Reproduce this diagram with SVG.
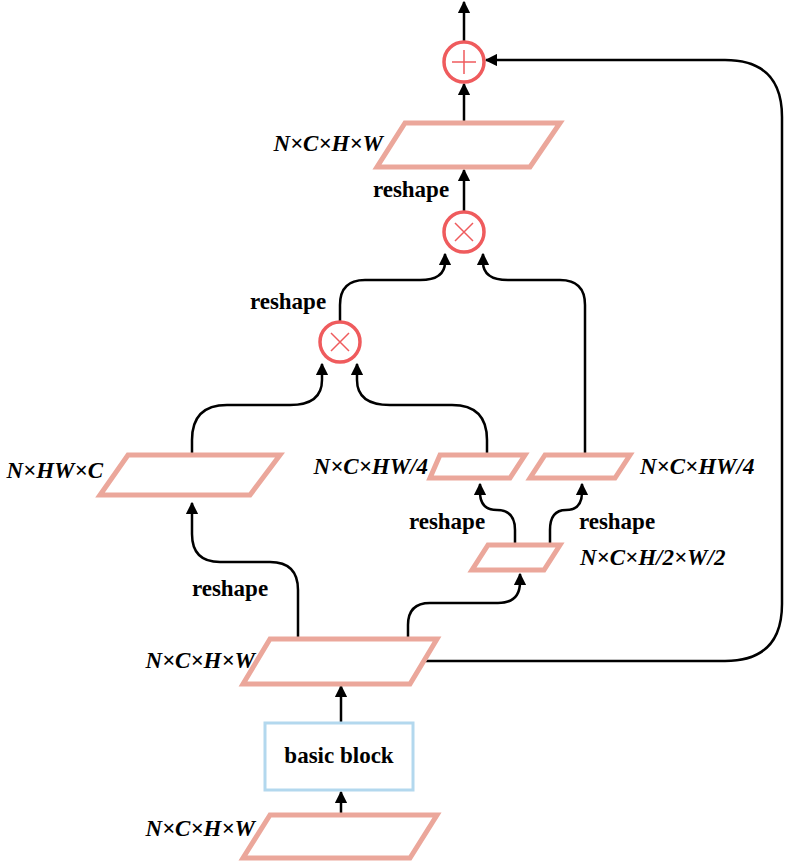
<svg xmlns="http://www.w3.org/2000/svg" width="788" height="862" viewBox="0 0 788 862">
<defs>
<marker id="ah" viewBox="0 0 10 10" refX="9" refY="5" markerWidth="5" markerHeight="5" orient="auto-start-reverse"><path d="M0,0 L10,5 L0,10 z" fill="#000"/></marker>
<style>
.pg{fill:#fff;stroke:#eba79b;stroke-width:5}
.op{fill:#fff;stroke:#ef5b5d;stroke-width:3.5}
.sym{stroke:#ef5b5d;stroke-width:1.5;fill:none}
.c{fill:none;stroke:#000;stroke-width:2.5;marker-end:url(#ah)}
.t{font-family:"Liberation Serif",serif;font-size:23px;font-weight:bold;font-style:italic}
.r{font-family:"Liberation Serif",serif;font-size:23px;font-weight:bold}
</style>
</defs>
<g id="connectors">
<path class="c" d="M341,838 V792"/>
<path class="c" d="M341,723 V686"/>
<path class="c" d="M298,639 V590 Q298,562 270,562 H220 Q192,562 192,534 V503"/>
<path class="c" d="M408,639 V625 Q408,603 430,603 H498 Q520,603 520,582 V574"/>
<path class="c" d="M515,545 V530 Q515,510 497,510 Q480,510 480,492 V484"/>
<path class="c" d="M550,545 V530 Q550,510 566,510 Q582,510 582,492 V484"/>
<path class="c" d="M192,455 V440 Q192,405 227,405 H290 Q322,405 322,380 V364"/>
<path class="c" d="M487,455 V440 Q487,405 452,405 H390 Q357,405 357,380 V364"/>
<path class="c" d="M340,322 V305 Q340,280 365,280 H420 Q445,280 445,262 V254"/>
<path class="c" d="M585,455 V305 Q585,280 560,280 H508 Q483,280 483,262 V254"/>
<path class="c" d="M464,212 V170"/>
<path class="c" d="M464,123 V84"/>
<path class="c" d="M464,42 V2"/>
<path class="c" d="M423,661 H725 Q782,661 782,604 V117 Q782,60 725,60 H486"/>
</g>
<g id="input"><polygon class="pg" points="270,815 437,815 410,858 243,858"/><text class="t" x="255" y="836" text-anchor="end">N×C×H×W</text></g>
<g id="basic"><rect x="265" y="723" width="148" height="67" fill="#fff" stroke="#b3d8ee" stroke-width="3"/><text class="r" x="339" y="763" text-anchor="middle">basic block</text></g>
<g id="feat"><polygon class="pg" points="270,639 437,639 410,684 243,684"/><text class="t" x="255" y="668" text-anchor="end">N×C×H×W</text></g>
<text class="r" x="230" y="596" text-anchor="middle">reshape</text>
<g id="hwc"><polygon class="pg" points="128,455 280,455 250,495 100,495"/><text class="t" x="103" y="478" text-anchor="end">N×HW×C</text></g>
<g id="half"><polygon class="pg" points="488,545 560,545 544,570 472,570"/><text class="t" x="580" y="565">N×C×H/2×W/2</text></g>
<g id="q1"><polygon class="pg" points="440,455 525,455 510,478 430,478"/><text class="t" x="428" y="474" text-anchor="end">N×C×HW/4</text></g>
<g id="q2"><polygon class="pg" points="545,455 630,455 615,478 530,478"/><text class="t" x="640" y="474">N×C×HW/4</text></g>
<text class="r" x="447" y="529" text-anchor="middle">reshape</text>
<text class="r" x="617" y="529" text-anchor="middle">reshape</text>
<g id="mul1"><circle class="op" cx="340" cy="342" r="20"/><path class="sym" d="M331,333 L349,351 M349,333 L331,351"/></g>
<text class="r" x="288" y="309" text-anchor="middle">reshape</text>
<g id="mul2"><circle class="op" cx="464" cy="232" r="20"/><path class="sym" d="M455,223 L473,241 M473,223 L455,241"/></g>
<text class="r" x="411" y="197" text-anchor="middle">reshape</text>
<g id="out"><polygon class="pg" points="405,123 560,123 530,167 377,167"/><text class="t" x="383" y="151" text-anchor="end">N×C×H×W</text></g>
<g id="add"><circle class="op" cx="464" cy="62" r="20"/><path class="sym" d="M464,50 V74 M452,62 H476"/></g>
</svg>
